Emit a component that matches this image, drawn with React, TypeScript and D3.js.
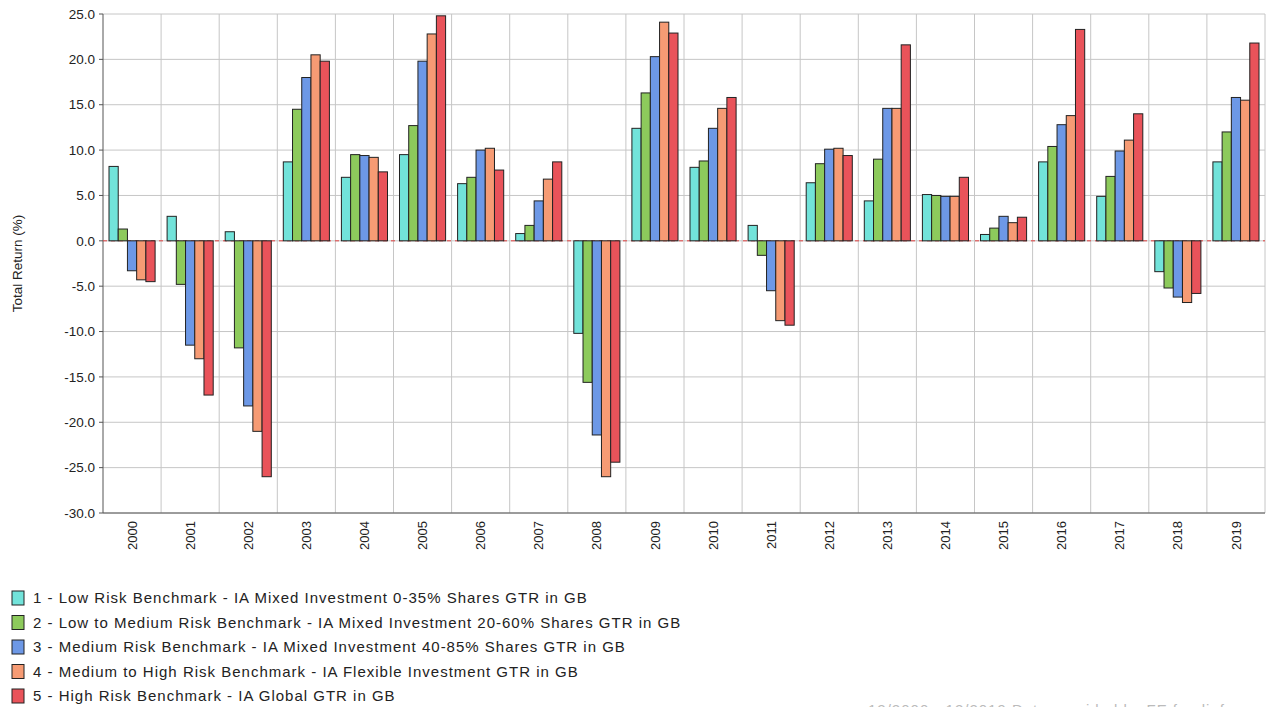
import * as d3 from 'd3';
import React from 'react';

const years = ['2000','2001','2002','2003','2004','2005','2006','2007','2008','2009','2010','2011','2012','2013','2014','2015','2016','2017','2018','2019'];
const lowRisk = [8.2, 2.7, 1.0, 8.7, 7.0, 9.5, 6.3, 0.8, -10.2, 12.4, 8.1, 1.7, 6.4, 4.4, 5.1, 0.7, 8.7, 4.9, -3.4, 8.7];
const lowMedRisk = [1.3, -4.8, -11.8, 14.5, 9.5, 12.7, 7.0, 1.7, -15.6, 16.3, 8.8, -1.6, 8.5, 9.0, 5.0, 1.4, 10.4, 7.1, -5.2, 12.0];
const medRisk = [-3.3, -11.5, -18.2, 18.0, 9.4, 19.8, 10.0, 4.4, -21.4, 20.3, 12.4, -5.5, 10.1, 14.6, 4.9, 2.7, 12.8, 9.9, -6.2, 15.8];
const medHighRisk = [-4.3, -13.0, -21.0, 20.5, 9.2, 22.8, 10.2, 6.8, -26.0, 24.1, 14.6, -8.8, 10.2, 14.6, 4.9, 2.0, 13.8, 11.1, -6.8, 15.5];
const highRisk = [-4.5, -17.0, -26.0, 19.8, 7.6, 24.8, 7.8, 8.7, -24.4, 22.9, 15.8, -9.3, 9.4, 21.6, 7.0, 2.6, 23.3, 14.0, -5.8, 21.8];
const seriesNames = [
  '1 - Low Risk Benchmark - IA Mixed Investment 0-35% Shares GTR in GB',
  '2 - Low to Medium Risk Benchmark - IA Mixed Investment 20-60% Shares GTR in GB',
  '3 - Medium Risk Benchmark - IA Mixed Investment 40-85% Shares GTR in GB',
  '4 - Medium to High Risk Benchmark - IA Flexible Investment GTR in GB',
  '5 - High Risk Benchmark - IA Global GTR in GB',
];
const colors = ['#72e3da', '#8dca5c', '#6d98e6', '#f69b74', '#e9535a'];
const yTicks = [25, 20, 15, 10, 5, 0, -5, -10, -15, -20, -25, -30];

const W = 1270, H = 707;
const left = 103, right = 1265, top = 14, bottom = 513;

export default function App() {
  const series = [lowRisk, lowMedRisk, medRisk, medHighRisk, highRisk];
  const x = d3.scaleBand<string>().domain(years).range([left, right]).paddingInner(0).paddingOuter(0);
  const inner = d3.scaleBand<number>().domain(d3.range(5)).range([6, x.bandwidth() - 6]).padding(0);
  const y = d3.scaleLinear().domain([-30, 25]).range([bottom, top]);
  const font = 'Liberation Sans, Arial, sans-serif';

  return (
    <svg width={W} height={H} style={{ position: 'absolute', left: 0, top: 0 }} fontFamily={font}>
      <rect width={W} height={H} fill="#fff" />
      {yTicks.map(t => (
        <g key={t}>
          <line x1={left} x2={right} y1={y(t)} y2={y(t)} stroke="#c6c6c6" />
          <line x1={left - 4} x2={left} y1={y(t)} y2={y(t)} stroke="#555" />
          <text x={left - 8} y={y(t)} dy="0.35em" textAnchor="end" fontSize={13.5} fill="#222">{t.toFixed(1)}</text>
        </g>
      ))}
      {years.map((yr, i) => (
        <g key={yr}>
          {i > 0 && <line x1={x(yr)!} x2={x(yr)!} y1={top} y2={bottom} stroke="#c6c6c6" />}
          <text transform={`translate(${x(yr)! + x.bandwidth() / 2},${bottom + 8}) rotate(-90)`} dy="0.35em" textAnchor="end" fontSize={13} fill="#222">{yr}</text>
        </g>
      ))}
      <line x1={right} x2={right} y1={top} y2={bottom} stroke="#c6c6c6" />
      <line x1={left} x2={left} y1={top} y2={bottom} stroke="#555" />
      <line x1={left} x2={right} y1={bottom} y2={bottom} stroke="#555" />
      <line x1={left} x2={right} y1={y(0)} y2={y(0)} stroke="#e04040" strokeDasharray="4,4" />
      {series.map((vals, s) => vals.map((v, i) => {
        const bx = x(years[i])! + inner(s)!;
        const y0 = Math.min(y(0), y(v));
        return <rect key={`${s}-${i}`} x={bx} y={y0} width={inner.bandwidth()} height={Math.abs(y(v) - y(0))}
          fill={colors[s]} stroke="#222" strokeWidth={1} />;
      }))}
      <text transform={`translate(22,${(top + bottom) / 2}) rotate(-90)`} textAnchor="middle" fontSize={13.5} fill="#222">Total Return (%)</text>
      {seriesNames.map((n, s) => (
        <g key={n} transform={`translate(12,${591 + s * 24.5})`}>
          <rect x={0} y={0} width={12} height={14} fill={colors[s]} stroke="#222" />
          <text x={21} y={7} dy="0.35em" fontSize={15} letterSpacing={1} fill="#222">{n}</text>
        </g>
      ))}
      <text x={868} y={715} fontSize={15} letterSpacing={1} fill="#bbb">12/2000 - 12/2019 Data provided by FE fundinfo</text>
    </svg>
  );
}
